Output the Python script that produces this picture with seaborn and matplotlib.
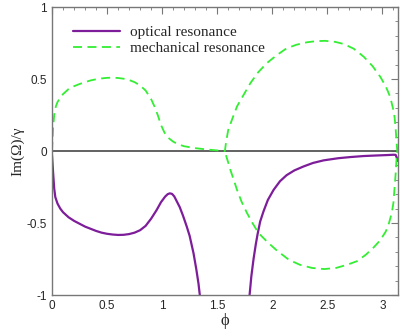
import numpy as np
import pandas as pd
import matplotlib
matplotlib.use("Agg")
import matplotlib.pyplot as plt
from matplotlib.ticker import MultipleLocator
import seaborn as sns

# optical resonance (two visible branches; it drops below -1 between them)
opt1_x = [0.0, 0.01, 0.02, 0.03, 0.05, 0.075, 0.1, 0.15, 0.2, 0.25, 0.3, 0.35, 0.4, 0.45, 0.5, 0.55,
          0.6, 0.65, 0.7, 0.75, 0.8, 0.85, 0.9, 0.95, 0.99, 1.027, 1.05, 1.07, 1.09, 1.11, 1.13, 1.16,
          1.19, 1.224, 1.25, 1.285, 1.31, 1.33, 1.342, 1.35]
opt1_y = [-0.03, -0.15, -0.26, -0.32, -0.365, -0.40, -0.425, -0.46, -0.485, -0.505, -0.525, -0.54,
          -0.555, -0.567, -0.575, -0.58, -0.583, -0.582, -0.577, -0.567, -0.55, -0.52, -0.47, -0.41,
          -0.355, -0.317, -0.30, -0.294, -0.298, -0.315, -0.345, -0.39, -0.45, -0.526, -0.59, -0.71,
          -0.82, -0.92, -1.0, -1.06]
opt2_x = [1.788, 1.794, 1.81, 1.83, 1.85, 1.866, 1.89, 1.92, 1.96, 2.012, 2.07, 2.13, 2.2, 2.285,
          2.37, 2.466, 2.6, 2.71, 2.83, 2.95, 3.05, 3.10, 3.12, 3.13, 3.1416]
opt2_y = [-1.05, -1.0, -0.87, -0.75, -0.65, -0.58, -0.49, -0.42, -0.34, -0.27, -0.21, -0.168, -0.135,
          -0.107, -0.083, -0.065, -0.05, -0.042, -0.035, -0.031, -0.028, -0.026, -0.027, -0.045, -0.07]

# mechanical resonance: first branch to 1.57, then upper loop, then lower loop back
mech_x = [0.0, 0.005, 0.01, 0.02, 0.035, 0.05, 0.075, 0.1, 0.15, 0.2, 0.25, 0.3, 0.35, 0.4, 0.45,
          0.5, 0.55, 0.6, 0.65, 0.7, 0.75, 0.8, 0.85, 0.9, 0.93, 0.96, 0.99, 1.02, 1.05, 1.1, 1.15,
          1.2, 1.3, 1.4, 1.5, 1.57,
          1.58, 1.60, 1.64, 1.68, 1.74, 1.80, 1.87, 1.95, 2.04, 2.13, 2.22, 2.315, 2.40, 2.48, 2.57,
          2.65, 2.74, 2.83, 2.91, 2.98, 3.03, 3.07, 3.095, 3.11, 3.12, 3.127, 3.135,
          3.127, 3.12, 3.11, 3.10, 3.085, 3.06, 3.03, 2.98, 2.92, 2.85, 2.77, 2.68, 2.58, 2.47, 2.36,
          2.25, 2.15, 2.04, 1.96, 1.875, 1.82, 1.77, 1.72, 1.68, 1.65, 1.62, 1.60, 1.58, 1.57]
mech_y = [0.0, 0.08, 0.16, 0.25, 0.31, 0.34, 0.37, 0.395, 0.43, 0.45, 0.465, 0.478, 0.49, 0.498,
          0.504, 0.508, 0.509, 0.507, 0.502, 0.493, 0.478, 0.455, 0.42, 0.36, 0.31, 0.25, 0.18,
          0.13, 0.095, 0.065, 0.045, 0.033, 0.02, 0.011, 0.004, 0.0,
          0.06, 0.146, 0.23, 0.31, 0.39, 0.47, 0.545, 0.61, 0.665, 0.713, 0.738, 0.755, 0.763, 0.765,
          0.758, 0.743, 0.71, 0.655, 0.59, 0.516, 0.45, 0.377, 0.30, 0.238, 0.16, 0.076, 0.0,
          -0.07, -0.16, -0.26, -0.36, -0.43, -0.50, -0.56, -0.62, -0.67, -0.72, -0.765, -0.79,
          -0.812, -0.82, -0.812, -0.79, -0.755, -0.69, -0.635, -0.57, -0.50, -0.43, -0.35, -0.27,
          -0.20, -0.132, -0.08, -0.03, 0.0]

sns.set_style("white")
plt.rcParams["font.family"] = ["Liberation Sans", "DejaVu Sans"]
SERIF = ["Liberation Serif", "DejaVu Serif"]

fig = plt.figure(figsize=(4.05, 3.33), dpi=100)
ax = fig.add_axes([52/405, 38/333, 346/405, 288/333])

PURPLE = "#7e1d9a"
GREEN = "#33ee33"

ax.axhline(0, color="#555555", lw=1.3, zorder=1)

d1 = pd.DataFrame({"x": opt1_x, "y": opt1_y})
d2 = pd.DataFrame({"x": opt2_x, "y": opt2_y})
dm = pd.DataFrame({"x": mech_x, "y": mech_y})

sns.lineplot(data=d1, x="x", y="y", ax=ax, color=PURPLE, lw=1.6, sort=False, estimator=None,
             label="optical resonance")
sns.lineplot(data=d2, x="x", y="y", ax=ax, color=PURPLE, lw=1.6, sort=False, estimator=None)
sns.lineplot(data=dm, x="x", y="y", ax=ax, color=GREEN, lw=1.3, sort=False, estimator=None,
             label="mechanical resonance")
ax.lines[-1].set_dashes([5, 3])

ax.set_xlim(0, np.pi)
ax.set_ylim(-1, 1)
ax.xaxis.set_minor_locator(MultipleLocator(0.1))
ax.yaxis.set_minor_locator(MultipleLocator(0.1))
ax.set_xticks([0, 0.5, 1, 1.5, 2, 2.5, 3])
ax.set_xticklabels(["0", "0.5", "1", "1.5", "2", "2.5", "3"])
ax.set_yticks([-1, -0.5, 0, 0.5, 1])
ax.set_yticklabels(["-1", "-0.5", "0", "0.5", "1"])
ax.tick_params(which="both", direction="in", top=True, right=True, color="#777777")
ax.tick_params(which="major", length=5, labelsize=8.5, width=0.8)
ax.tick_params(which="minor", length=2.5, width=0.6)
for s in ax.spines.values():
    s.set_color("#777777")
    s.set_linewidth(1.0)

ax.set_xlabel("ϕ", family=SERIF, fontsize=12, labelpad=1)
ax.set_ylabel("Im(Ω)/γ", family=SERIF, fontsize=11, labelpad=2)

leg = ax.legend(loc="upper left", bbox_to_anchor=(0.021, 0.983), frameon=False,
                prop={"family": SERIF, "size": 11},
                handlelength=3.1, handletextpad=0.65, labelspacing=0.15)
leg.get_lines()[1].set_dashes([5, 3])

fig.savefig("out.png", dpi=100)
